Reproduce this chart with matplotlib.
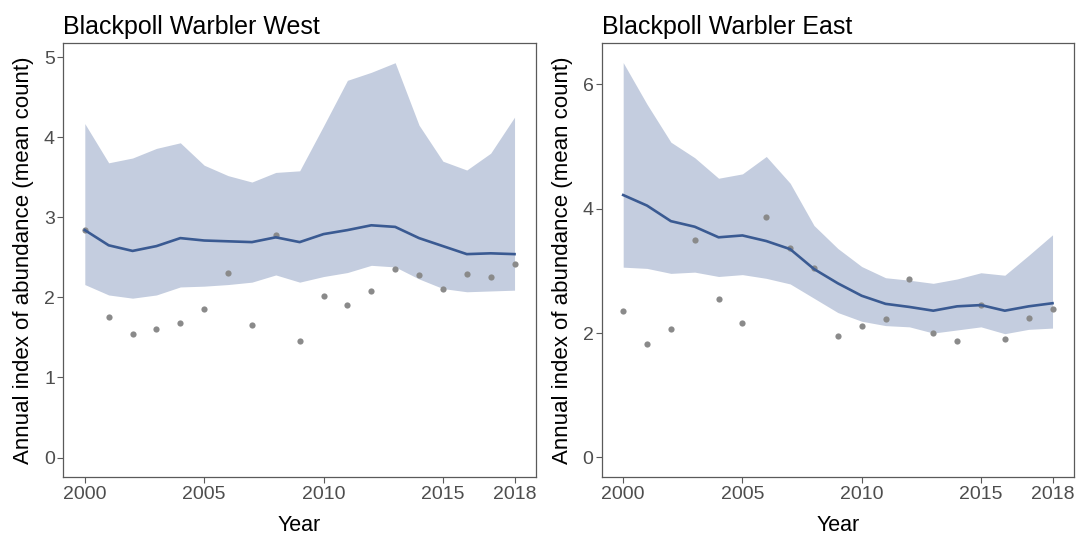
import matplotlib
matplotlib.use("Agg")
import matplotlib.pyplot as plt
import numpy as np

plt.rcParams['font.family'] = ['Liberation Sans', 'DejaVu Sans']

years = list(range(2000, 2019))

west_index = [2.84, 2.65, 2.58, 2.64, 2.74, 2.71, 2.70, 2.69, 2.75, 2.69,
              2.79, 2.84, 2.90, 2.88, 2.74, 2.64, 2.54, 2.55, 2.54]
west_upper = [4.17, 3.68, 3.74, 3.86, 3.93, 3.65, 3.52, 3.44, 3.56, 3.58,
              4.14, 4.71, 4.81, 4.93, 4.15, 3.70, 3.59, 3.80, 4.25]
west_lower = [2.16, 2.03, 1.99, 2.03, 2.13, 2.14, 2.16, 2.19, 2.28, 2.19,
              2.26, 2.31, 2.40, 2.38, 2.23, 2.11, 2.07, 2.08, 2.09]
west_obs = [2.84, 1.75, 1.54, 1.60, 1.68, 1.85, 2.30, 1.65, 2.78, 1.45,
            2.02, 1.90, 2.08, 2.36, 2.28, 2.11, 2.29, 2.26, 2.42]

east_index = [4.22, 4.05, 3.80, 3.71, 3.54, 3.57, 3.48, 3.35, 3.03, 2.80,
              2.60, 2.47, 2.42, 2.36, 2.43, 2.45, 2.36, 2.43, 2.48]
east_upper = [6.35, 5.68, 5.07, 4.82, 4.49, 4.56, 4.84, 4.41, 3.73, 3.36,
              3.07, 2.89, 2.85, 2.80, 2.87, 2.97, 2.93, 3.25, 3.58]
east_lower = [3.06, 3.04, 2.96, 2.98, 2.91, 2.94, 2.88, 2.79, 2.56, 2.33,
              2.19, 2.12, 2.10, 2.00, 2.05, 2.10, 1.99, 2.06, 2.08]
east_obs = [2.35, 1.82, 2.07, 3.49, 2.55, 2.16, 3.87, 3.37, 3.04, 1.96,
            2.12, 2.22, 2.87, 2.00, 1.87, 2.45, 1.90, 2.25, 2.38]

x_ticks = [2000, 2005, 2010, 2015, 2018]
west_yticks = [0, 1, 2, 3, 4, 5]
east_yticks = [0, 2, 4, 6]
titles = ["Blackpoll Warbler West", "Blackpoll Warbler East"]

fig = plt.figure(figsize=(10.77, 5.35), dpi=100)
ax1 = fig.add_axes([0.0588, 0.1078, 0.4389, 0.8124])
ax2 = fig.add_axes([0.5587, 0.1078, 0.4385, 0.8124])

fill_c = '#c4cddf'
line_c = '#3a5a92'
pt_c = '#8a8a8a'
frame_c = '#5a5a5a'
tick_c = '#4d4d4d'

panels = [
    (ax1, west_index, west_upper, west_lower, west_obs, west_yticks, (-0.247, 5.18), titles[0]),
    (ax2, east_index, east_upper, east_lower, east_obs, east_yticks, (-0.32, 6.67), titles[1]),
]

for ax, idx, up, lo, obs, yt, yl, title in panels:
    ax.fill_between(years, lo, up, color=fill_c, linewidth=0, zorder=1)
    ax.scatter(years, obs, s=20, color=pt_c, linewidths=0, zorder=2)
    ax.plot(years, idx, color=line_c, linewidth=1.9, zorder=3)
    ax.set_xlim(1999.1, 2018.9)
    ax.set_ylim(*yl)
    ax.set_xticks(x_ticks)
    ax.set_yticks(yt)
    ax.tick_params(axis='both', colors=frame_c, labelcolor=tick_c, labelsize=14,
                   length=4, width=0.8, pad=2)
    for sp in ax.spines.values():
        sp.set_color(frame_c)
        sp.set_linewidth(0.9)
    ax.set_xlabel("Year", fontsize=15.5, color='black', labelpad=9)
    ax.set_ylabel("Annual index of abundance (mean count)", fontsize=16,
                  color='black', labelpad=7)
    ax.set_title(title, fontsize=18, loc='left', color='black', pad=6)

fig.savefig("out.png", dpi=100)
